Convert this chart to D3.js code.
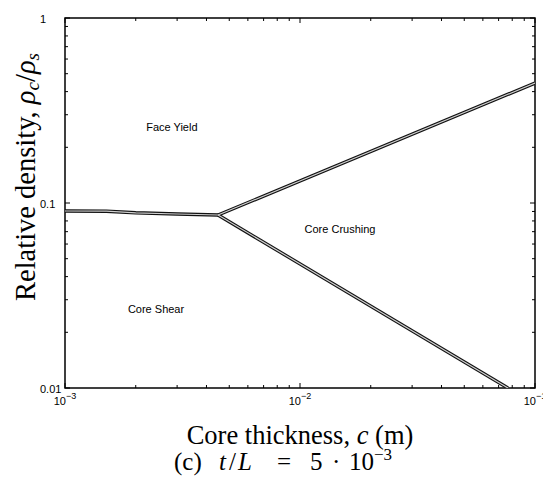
<!DOCTYPE html>
<html>
<head>
<meta charset="utf-8">
<script src="https://cdn.jsdelivr.net/npm/d3@7"></script>
<style>
  html, body { margin: 0; padding: 0; background: #fff; overflow: hidden; }
  svg { display: block; }
  .tick-label { font-family: "Liberation Sans", Arial, sans-serif; font-size: 11px; fill: #000; }
  .region { font-family: "Liberation Sans", Arial, sans-serif; font-size: 11px; fill: #000; }
  .title { font-family: "Liberation Serif", "Times New Roman", serif; fill: #000; }
</style>
</head>
<body>
<script>
// Failure-mode boundaries: core thickness c (m) vs relative density rho_c/rho_s
const shearYieldC = [0.001, 0.0015, 0.002, 0.003, 0.00448];
const shearYieldRho = [0.0905, 0.0903, 0.0885, 0.0872, 0.0861];
const yieldCrushC = [0.00448, 0.1];
const yieldCrushRho = [0.0861, 0.445];
const shearCrushC = [0.00448, 0.0767];
const shearCrushRho = [0.0861, 0.01];

const xTickExps = [-3, -2, -1];
const yTickValues = [0.01, 0.1, 1];
const yTickLabels = ["0.01", "0.1", "1"];

const regionNames = ["Face Yield", "Core Crushing", "Core Shear"];
const regionC = [0.00285, 0.0148, 0.00244];
const regionRho = [0.245, 0.0689, 0.0254];

const W = 543, H = 482;
const margin = { left: 65, right: 8, top: 18, bottom: 94 };

const svg = d3.select("body").append("svg").attr("width", W).attr("height", H);

const x = d3.scaleLog().domain([1e-3, 1e-1]).range([margin.left, W - margin.right]);
const y = d3.scaleLog().domain([0.01, 1]).range([H - margin.bottom, margin.top]);

const x0 = x.range()[0], x1 = x.range()[1];
const y0 = y.range()[0], y1 = y.range()[1];

// minor ticks inside every decade
const minorX = [], minorY = [];
for (const d of [1e-3, 1e-2]) for (let k = 2; k <= 9; k++) minorX.push(d * k);
for (const d of [0.01, 0.1]) for (let k = 2; k <= 9; k++) minorY.push(d * k);
const majorX = xTickExps.map(e => Math.pow(10, e));

const g = svg.append("g");

// ticks on all four sides pointing inward
const tickG = g.append("g").attr("stroke", "#000").attr("stroke-width", 1);
function tickSet(vals, len) {
  vals.forEach(v => {
    const px = x(v);
    tickG.append("line").attr("x1", px).attr("x2", px).attr("y1", y0).attr("y2", y0 - len);
    tickG.append("line").attr("x1", px).attr("x2", px).attr("y1", y1).attr("y2", y1 + len);
  });
}
function tickSetY(vals, len) {
  vals.forEach(v => {
    const py = y(v);
    tickG.append("line").attr("y1", py).attr("y2", py).attr("x1", x0).attr("x2", x0 + len);
    tickG.append("line").attr("y1", py).attr("y2", py).attr("x1", x1).attr("x2", x1 - len);
  });
}
tickSet(minorX, 3);
tickSet(majorX, 5);
tickSetY(minorY, 3);
tickSetY(yTickValues, 5);

// frame
g.append("rect")
  .attr("x", x0).attr("y", y1).attr("width", x1 - x0).attr("height", y0 - y1)
  .attr("fill", "none").attr("stroke", "#000").attr("stroke-width", 1.5);

// y tick labels, left aligned in a column beside the axis
yTickValues.forEach((v, i) => {
  g.append("text").attr("class", "tick-label")
    .attr("x", x0 - 25).attr("y", y(v) + 5)
    .attr("text-anchor", "start").text(yTickLabels[i]);
});

// x tick labels: 10^e
xTickExps.forEach(e => {
  const t = g.append("text").attr("class", "tick-label")
    .attr("x", x(Math.pow(10, e))).attr("y", y0 + 17)
    .attr("text-anchor", "middle");
  t.append("tspan").text("10");
  t.append("tspan").attr("dy", -6).style("font-size", "9px").text("\u2212" + Math.abs(e));
});

// boundary curves drawn as hollow double lines
const line = d3.line().x(d => x(d[0])).y(d => y(d[1]));
const curves = [
  d3.zip(shearYieldC, shearYieldRho),
  d3.zip(yieldCrushC, yieldCrushRho),
  d3.zip(shearCrushC, shearCrushRho)
];
const clipId = "plotclip";
svg.append("clipPath").attr("id", clipId)
  .append("rect").attr("x", x0).attr("y", y1).attr("width", x1 - x0).attr("height", y0 - y1);
const cg = g.append("g").attr("clip-path", `url(#${clipId})`);
curves.forEach(c => {
  cg.append("path").attr("d", line(c)).attr("fill", "none")
    .attr("stroke", "#111").attr("stroke-width", 3.4).attr("stroke-linejoin", "round");
});
curves.forEach(c => {
  cg.append("path").attr("d", line(c)).attr("fill", "none")
    .attr("stroke", "#d0d0d0").attr("stroke-width", 1.2).attr("stroke-linejoin", "round");
});

// region labels
regionNames.forEach((n, i) => {
  g.append("text").attr("class", "region")
    .attr("x", x(regionC[i])).attr("y", y(regionRho[i]))
    .attr("text-anchor", "middle").text(n);
});

// x axis title
const xt = g.append("text").attr("class", "title").attr("text-anchor", "middle")
  .style("font-size", "26.5px")
  .attr("transform", "translate(300,444)");
xt.append("tspan").text("Core thickness, ");
xt.append("tspan").attr("font-style", "italic").text("c");
xt.append("tspan").text(" (m)");

// caption, set with math spacing around the operators
const ct = g.append("text").attr("class", "title").attr("y", 470)
  .style("font-size", "25px");
ct.append("tspan").attr("x", 174).text("(c)");
ct.append("tspan").attr("x", 219).attr("font-style", "italic").text("t");
ct.append("tspan").attr("dx", 3).text("/");
ct.append("tspan").attr("dx", 2).attr("font-style", "italic").text("L");
ct.append("tspan").attr("x", 277).text("=");
ct.append("tspan").attr("x", 310).text("5");
ct.append("tspan").attr("x", 332).text("\u00B7");
ct.append("tspan").attr("x", 349).text("10");
ct.append("tspan").attr("dy", -10).style("font-size", "17px").text("\u22123");

// y axis title
const yt = g.append("text").attr("class", "title").attr("text-anchor", "middle")
  .style("font-size", "28.5px")
  .attr("transform", "translate(35,177) rotate(-90)");
yt.append("tspan").text("Relative density, ");
yt.append("tspan").attr("font-style", "italic").text("\u03C1");
yt.append("tspan").attr("font-style", "italic").attr("dy", 4).style("font-size", "19px").text("c");
yt.append("tspan").attr("dy", -4).text("/");
yt.append("tspan").attr("font-style", "italic").text("\u03C1");
yt.append("tspan").attr("font-style", "italic").attr("dy", 4).style("font-size", "19px").text("s");
</script>
</body>
</html>
